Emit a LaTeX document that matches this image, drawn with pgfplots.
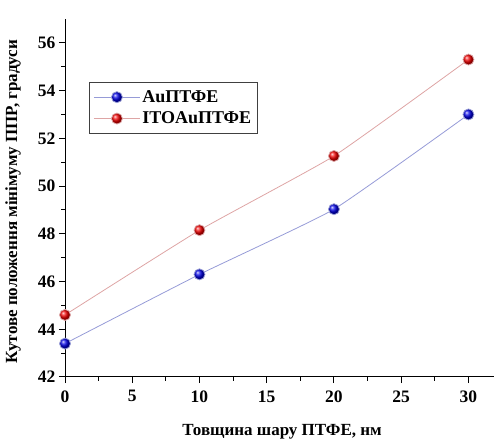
\documentclass[border=0pt]{standalone}
\usepackage{pgfplots}
\pgfplotsset{compat=1.18}
\usepackage{fontspec}
\setmainfont{Liberation Serif}
\usetikzlibrary{shadings}
\definecolor{blin}{RGB}{150,155,215}
\definecolor{rlin}{RGB}{222,165,165}
\pgfdeclareplotmark{bballs}{\shade[ball color=blue!90!black] (0pt,0pt) circle (\pgfplotmarksize);}
\pgfdeclareplotmark{rballs}{\shade[ball color=red!95!black] (0pt,0pt) circle (\pgfplotmarksize);}
\begin{document}
\begin{tikzpicture}[x=1bp,y=1bp]
\useasboundingbox (-65,-67) rectangle (429,377);
\begin{axis}[
  scale only axis,
  width=429bp, height=358bp,
  at={(0,0)}, anchor=south west,
  xmin=0, xmax=31.9, ymin=42, ymax=57,
  axis x line*=bottom, axis y line*=left,
  axis line style={line width=1bp},
  xtick={0,5,...,30}, ytick={42,44,...,56},
  minor xtick={2.5,7.5,...,27.5}, minor ytick={43,45,...,55},
  tick align=outside,
  major tick length=6bp, minor tick length=3.5bp,
  tick style={line width=1bp, black},
  tick label style={font=\fontsize{17.5bp}{19bp}\selectfont\bfseries},
  xticklabel style={yshift=-4bp},
  /pgf/number format/assume math mode=true,
  xlabel={Товщина шару ПТФЕ, нм},
  ylabel={Кутове положення мінімуму ППР, градуси},
  label style={font=\fontsize{17bp}{19bp}\selectfont\bfseries},
  xlabel style={at={(axis description cs:0.506,-0.154)}, anchor=center},
  ylabel style={at={(axis description cs:-0.121,0.49)}, anchor=center},
  clip=false,
  legend style={at={(0.056,0.824)}, anchor=north west, draw=black!75, line width=1bp,
    font=\fontsize{18bp}{20bp}\selectfont\bfseries, inner xsep=4bp, inner ysep=6bp,
    row sep=4bp, cells={anchor=west}},
  legend image post style={line width=0.8bp},
  legend image code/.code={\draw[#1] (0bp,0bp) -- (46bp,0bp); \draw[#1] plot coordinates {(23bp,0bp)};},
  legend cell align=left,
]
\addplot[blin, line width=0.8bp, smooth, tension=0.25, mark=bballs, mark size=5.5bp]
  coordinates {(0,43.4) (10,46.3) (20,49.03) (30,53.0)};
\addlegendentry{AuПТФЕ}
\addplot[rlin, line width=0.8bp, smooth, tension=0.25, mark=rballs, mark size=5.5bp]
  coordinates {(0,44.6) (10,48.15) (20,51.26) (30,55.3)};
\addlegendentry{ITOAuПТФЕ}
\end{axis}
\end{tikzpicture}
\end{document}
